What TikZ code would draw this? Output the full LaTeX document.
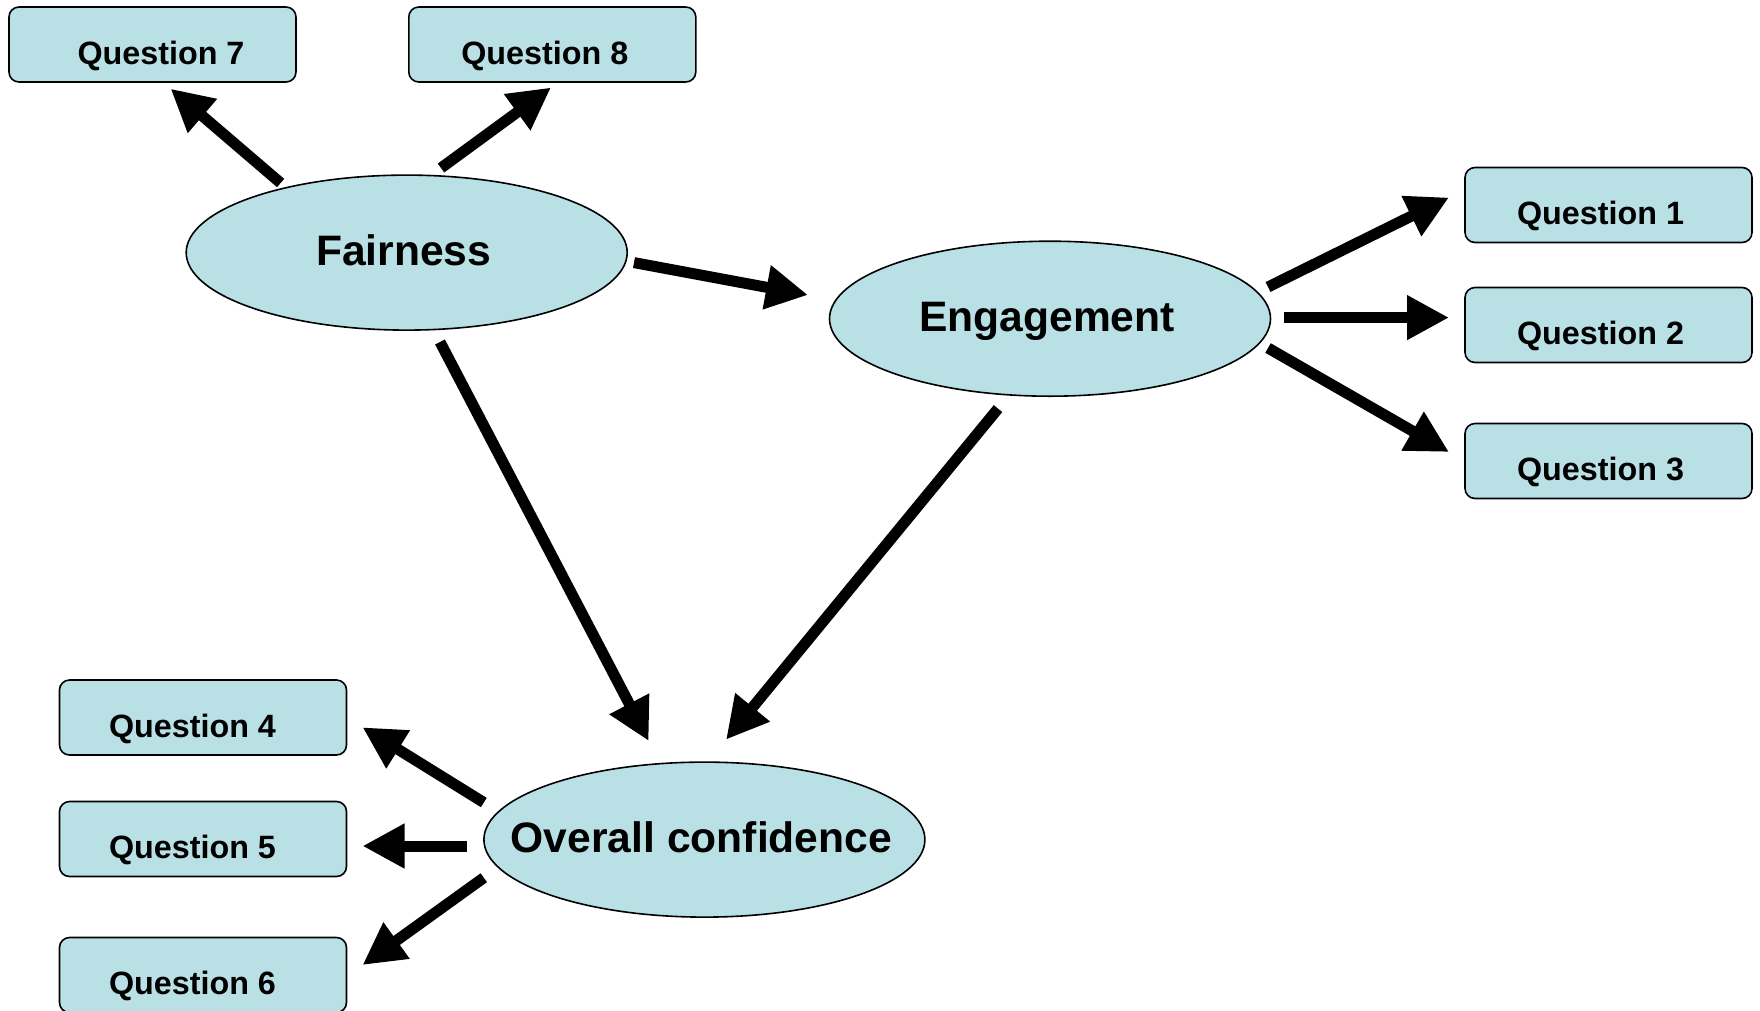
\documentclass[tikz,border=0pt]{standalone}
\usepackage{fontspec}
\setmainfont{Liberation Sans}
\usetikzlibrary{shapes.geometric,arrows.meta}
\definecolor{fillblue}{RGB}{185,224,228}
\tikzset{
  qbox/.style={draw=black, line width=1.6pt, fill=fillblue, rounded corners=10pt,
    minimum width=287pt, minimum height=75pt, inner sep=0pt},
  qlab/.style={inner sep=0pt, font=\fontsize{32.3}{32}\selectfont\bfseries,
    text height=39pt, text depth=0pt},
  latent/.style={draw=black, line width=1.6pt, fill=fillblue, ellipse,
    minimum width=441pt, minimum height=155pt, inner sep=0pt},
  llab/.style={inner sep=0pt, font=\fontsize{42.6}{42}\selectfont\bfseries,
    text height=30.5pt, text depth=0pt, xshift=-3pt, yshift=2.5pt},
  fatarrow/.style={line width=11pt, -{Triangle[length=42pt,width=42pt]}}
}
\begin{document}
\begin{tikzpicture}[x=1pt,y=-1pt]
\useasboundingbox (0,0) rectangle (1760,1010);
% nodes
\node[qbox, label={[qlab, xshift=8.5pt]center:Question 7}] (q7) at (152.5,44.5) {};
\node[qbox, label={[qlab, xshift=-7.5pt]center:Question 8}] (q8) at (552.3,44.5) {};
\node[qbox, label={[qlab, xshift=-8pt]center:Question 1}] (q1) at (1608.5,205) {};
\node[qbox, label={[qlab, xshift=-8pt]center:Question 2}] (q2) at (1608.5,325) {};
\node[qbox, label={[qlab, xshift=-8pt]center:Question 3}] (q3) at (1608.5,461) {};
\node[qbox, label={[qlab, xshift=-10.5pt]center:Question 4}] (q4) at (203,717.5) {};
\node[qbox, label={[qlab, xshift=-10.5pt]center:Question 5}] (q5) at (203,839) {};
\node[qbox, label={[qlab, xshift=-10.5pt]center:Question 6}] (q6) at (203,975) {};
\node[latent, label={[llab]center:Fairness}] (fair) at (406.7,252.6) {};
\node[latent, label={[llab]center:Engagement}] (eng) at (1050,318.7) {};
\node[latent, label={[llab]center:Overall confidence}] (conf) at (704.4,839.6) {};
% arrow end points
\coordinate (f7s) at (280.6,183);   \coordinate (f7e) at (170.6,88.7);
\coordinate (f8s) at (441,168);     \coordinate (f8e) at (551,87.5);
\coordinate (fes) at (634,262.6);   \coordinate (fee) at (808,295);
\coordinate (e1s) at (1268,287);    \coordinate (e1e) at (1449,197.5);
\coordinate (e2s) at (1284,317.6);  \coordinate (e2e) at (1449,317.6);
\coordinate (e3s) at (1268,348);    \coordinate (e3e) at (1449,452);
\coordinate (fcs) at (440,342);     \coordinate (fce) at (648.7,741);
\coordinate (ecs) at (998,408.6);   \coordinate (ece) at (726,739.7);
\coordinate (c4s) at (483.8,802.5); \coordinate (c4e) at (362.5,727.3);
\coordinate (c5s) at (467,846);     \coordinate (c5e) at (362.5,846);
\coordinate (c6s) at (483.8,877.7); \coordinate (c6e) at (362.5,965);
% connectors
\draw[fatarrow] (f7s) -- (f7e);
\draw[fatarrow] (f8s) -- (f8e);
\draw[fatarrow] (fes) -- (fee);
\draw[fatarrow] (e1s) -- (e1e);
\draw[fatarrow] (e2s) -- (e2e);
\draw[fatarrow] (e3s) -- (e3e);
\draw[fatarrow] (fcs) -- (fce);
\draw[fatarrow] (ecs) -- (ece);
\draw[fatarrow] (c4s) -- (c4e);
\draw[fatarrow] (c5s) -- (c5e);
\draw[fatarrow] (c6s) -- (c6e);
\end{tikzpicture}
\end{document}
